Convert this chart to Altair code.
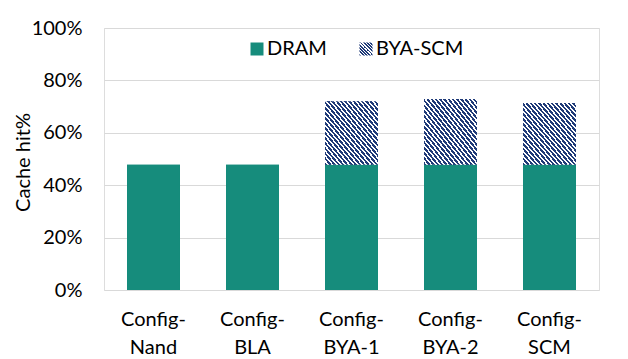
import altair as alt
import pandas as pd

categories = ["Config-Nand", "Config-BLA", "Config-BYA-1", "Config-BYA-2", "Config-SCM"]
series = ["DRAM", "BYA-SCM"]
dram = [47.8, 47.8, 47.8, 47.8, 47.8]
bya_scm = [0.0, 0.0, 24.2, 25.1, 23.6]
y_ticks = [0, 20, 40, 60, 80, 100]

TEAL = "#168C7C"
NAVY = "#1F3A78"
FONT = "Lato"

rows = []
for i, c in enumerate(categories):
    rows.append({"cat": c, "series": "DRAM", "value": dram[i], "ord": 0})
    if bya_scm[i] > 0:
        rows.append({"cat": c, "series": "BYA-SCM", "value": bya_scm[i], "ord": 1})
df = pd.DataFrame(rows)


def stripes(n, dark=0.55):
    stops = []
    for i in range(n):
        a = round(i / n, 5)
        b = round((i + dark) / n, 5)
        c = round((i + 1) / n, 5)
        stops += [
            f"{{offset: {a}, color: '{NAVY}'}}",
            f"{{offset: {b}, color: '{NAVY}'}}",
            f"{{offset: {b}, color: '#ffffff'}}",
            f"{{offset: {c}, color: '#ffffff'}}",
        ]
    return ("{gradient: 'linear', x1: 0, y1: 1, x2: 1, y2: 0, stops: ["
            + ", ".join(stops) + "]}")


x_enc = alt.X(
    "cat:N",
    sort=categories,
    scale=alt.Scale(paddingInner=0.465, paddingOuter=0.2325),
    axis=alt.Axis(
        title=None, labelAngle=0, domain=False, ticks=False, tickSize=0,
        labelPadding=19, labelLineHeight=28, labelFontSize=20, labelFont=FONT,
        labelColor="#000000", grid=False,
        labelExpr="['Config-', substring(datum.label, 7)]",
    ),
)
y_enc = alt.Y(
    "value:Q",
    stack="zero",
    scale=alt.Scale(domain=[0, 100], nice=False),
    axis=alt.Axis(
        title="Cache hit%", values=y_ticks, labelExpr="datum.value + '%'",
        grid=True, gridColor="#d9d9d9", gridWidth=1, domain=False, ticks=False,
        tickSize=0, labelPadding=22, labelFontSize=20, labelFont=FONT,
        labelColor="#000000", titleFont=FONT, titleFontSize=20,
        titleFontWeight="normal", titleColor="#000000", titleX=-75, titleY=134,
        titleBaseline="alphabetic",
    ),
)
order_enc = alt.Order("ord:Q", sort="ascending")

legend_layer = alt.Chart(df).mark_bar().encode(
    x=x_enc,
    y=y_enc,
    order=order_enc,
    color=alt.Color(
        "series:N",
        scale=alt.Scale(domain=series, range=[TEAL, alt.ExprRef(expr=stripes(8))]),
        legend=alt.Legend(
            title=None, orient="none", legendX=143, legendY=11,
            direction="horizontal", symbolType="square", symbolSize=169,
            labelFontSize=20, labelFont=FONT, labelColor="#000000",
            columnPadding=29, labelOffset=0, padding=0, symbolStrokeWidth=0,
        ),
    ),
)

bar_layer = alt.Chart(df).mark_bar().encode(
    x=x_enc,
    y=y_enc,
    order=order_enc,
    fill=alt.Fill(
        "series:N",
        scale=alt.Scale(domain=series, range=[TEAL, alt.ExprRef(expr=stripes(25))]),
        legend=None,
    ),
)

chart = (
    alt.layer(legend_layer, bar_layer)
    .properties(
        width=495,
        height=262,
        autosize=alt.AutoSizeParams(type="none"),
        padding={"left": 96, "top": 20, "right": 21, "bottom": 76},
    )
    .configure_view(stroke="#595959", strokeWidth=1)
    .configure(background="white")
)

chart.save("out.html", embed_options={"renderer": "svg", "actions": False})
